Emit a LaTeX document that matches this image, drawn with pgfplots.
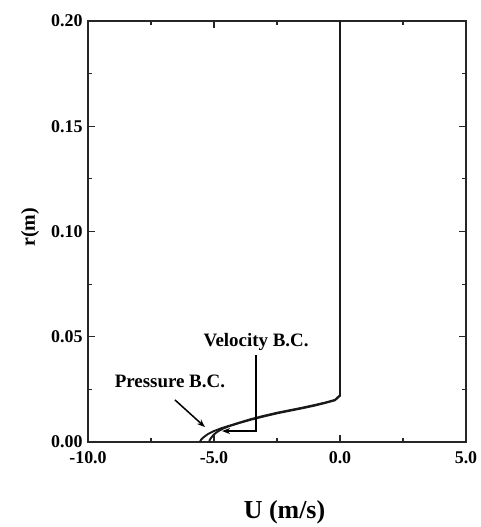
\documentclass[border=0pt]{standalone}
\usepackage{fontspec}
\setmainfont{Liberation Serif}
\usepackage{pgfplots}
\pgfplotsset{compat=1.18}
\usetikzlibrary{arrows.meta}
\begin{document}
\begin{tikzpicture}
\begin{axis}[
  scale only axis,
  width=378bp, height=421bp,
  xmin=-10, xmax=5, ymin=0, ymax=0.2,
  xtick={-10,-5,0,5},
  xticklabels={-10.0,-5.0,0.0,5.0},
  ytick={0,0.05,0.10,0.15,0.20},
  yticklabels={0.00,0.05,0.10,0.15,0.20},
  minor x tick num=1, minor y tick num=1,
  tick align=inside,
  major tick length=7bp, minor tick length=4bp,
  axis line style={line width=2bp, black!85},
  every tick/.style={line width=1.2bp, black!85},
  tick label style={font=\fontsize{18}{18}\selectfont\bfseries},
  xticklabel style={yshift=-6bp},
  yticklabel style={xshift=-2bp},
  xlabel={U (m/s)}, ylabel={r(m)},
  xlabel style={font=\fontsize{26}{28}\selectfont\bfseries, at={(axis description cs:0.52,-0.166)}, anchor=center},
  ylabel style={font=\fontsize{20}{22}\selectfont\bfseries, at={(axis description cs:-0.153,0.51)}, anchor=center},
  clip=false,
]
% Pressure B.C. (outer curve)
\addplot[line width=1.9bp, black!90] coordinates {
 (0,0.2) (0,0.0222) (-0.2,0.0200) (-0.6,0.0187) (-1.0,0.0176) (-1.5,0.0163)
 (-2.0,0.0151) (-2.5,0.0139) (-3.0,0.0125) (-3.5,0.0110) (-4.0,0.0092)
 (-4.4,0.0077) (-4.7,0.0066) (-5.0,0.0052) (-5.25,0.0037) (-5.42,0.0022)
 (-5.52,0.0010) (-5.56,0)
};
% Velocity B.C. (inner curve)
\addplot[line width=1.9bp, black!90] coordinates {
 (0,0.2) (0,0.0220) (-0.2,0.0198) (-0.6,0.0185) (-1.0,0.0173) (-1.5,0.0160)
 (-2.0,0.0148) (-2.5,0.0136) (-3.0,0.0122) (-3.5,0.0107) (-4.0,0.0090)
 (-4.4,0.0075) (-4.65,0.0063) (-4.85,0.0050) (-5.0,0.0036) (-5.1,0.0022)
 (-5.17,0.0010) (-5.19,0)
};
\node[font=\fontsize{19}{20}\selectfont\bfseries] at (axis cs:-6.75,0.029) {Pressure B.C.};
\draw[line width=1.5bp, -{Stealth[length=8bp,width=6bp]}] (axis cs:-6.55,0.0200) -- (axis cs:-5.36,0.0071);
\node[font=\fontsize{19}{20}\selectfont\bfseries] at (axis cs:-3.33,0.0475) {Velocity B.C.};
\draw[line width=1.5bp, -{Stealth[length=8bp,width=6bp]}] (axis cs:-3.33,0.0413) -- (axis cs:-3.33,0.0052) -- (axis cs:-4.68,0.0052);
\end{axis}
\path[use as bounding box] ([xshift=-88bp,yshift=-85bp]current axis.south west) rectangle ([xshift=15bp,yshift=21bp]current axis.north east);
\end{tikzpicture}
\end{document}
